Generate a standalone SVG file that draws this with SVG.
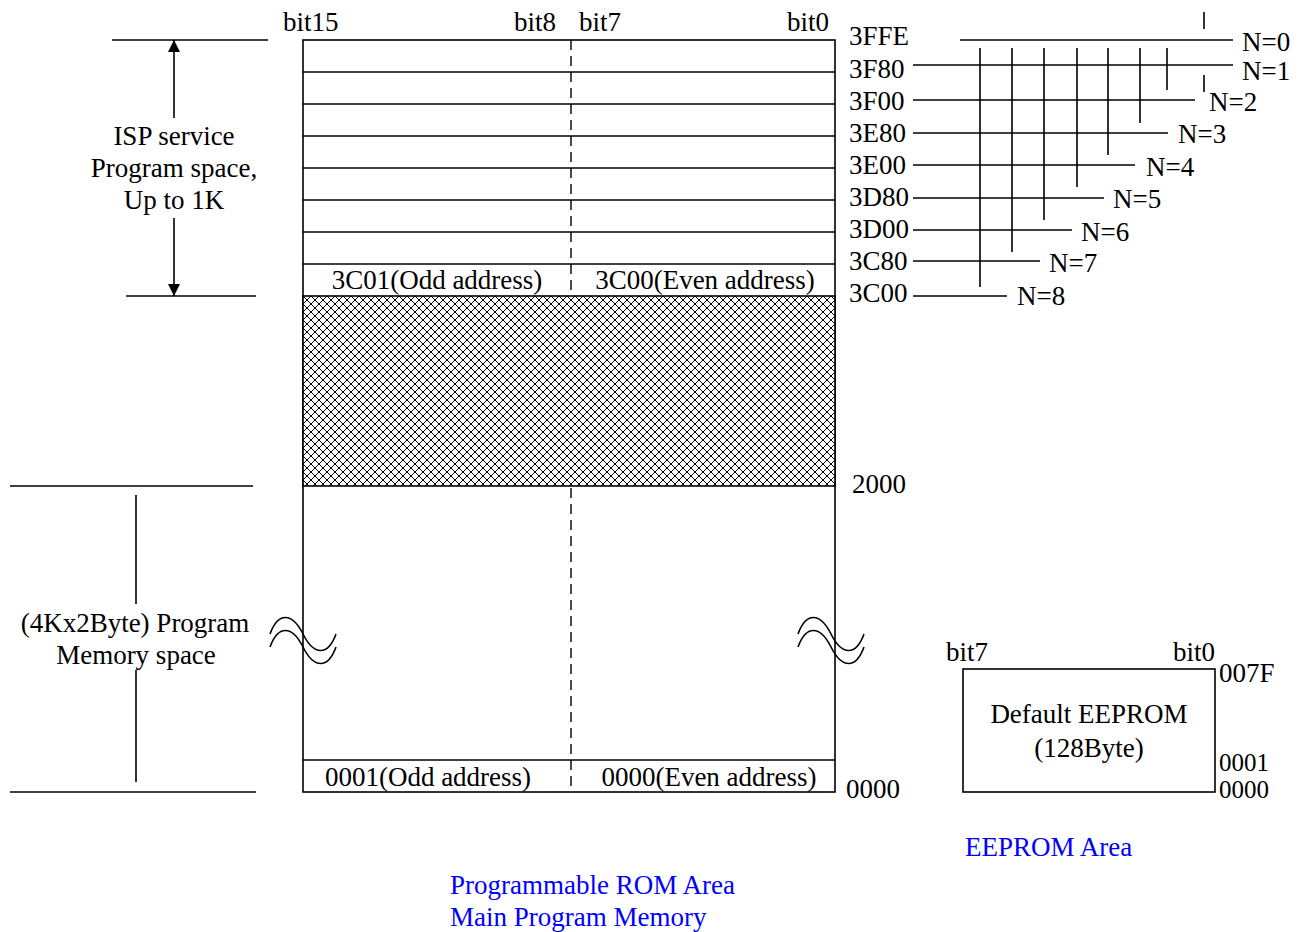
<svg xmlns="http://www.w3.org/2000/svg" width="1298" height="932" viewBox="0 0 1298 932">
<style>
text{font-family:"Liberation Serif","Times New Roman",serif;font-size:27px;fill:#000}
.blue{fill:#0000ff}
.ln{stroke:#000;stroke-width:1.6;fill:none}
.mid{text-anchor:middle}
.end{text-anchor:end}
.sm{font-size:25px}
</style>
<defs>
<pattern id="hatch" width="8" height="8" patternUnits="userSpaceOnUse" x="303" y="296">
<rect width="8" height="8" fill="#fff"/>
<path d="M0,0L8,8M8,0L0,8" stroke="#000" stroke-width="1"/>
</pattern>
<marker id="ah" viewBox="0 0 12 12" refX="12" refY="6" markerWidth="12" markerHeight="12" markerUnits="userSpaceOnUse" orient="auto">
<path d="M0,0L12,6L0,12z" fill="#000"/>
</marker>
</defs>
<rect width="1298" height="932" fill="#fff"/>

<g id="rom-memory">
<rect x="303" y="40" width="532" height="752" class="ln"/>
<line x1="571" y1="40" x2="571" y2="792" stroke="#000" stroke-width="1.4" stroke-dasharray="10,6"/>
<g class="ln">
<line x1="303" y1="72" x2="835" y2="72"/>
<line x1="303" y1="104" x2="835" y2="104"/>
<line x1="303" y1="136" x2="835" y2="136"/>
<line x1="303" y1="168" x2="835" y2="168"/>
<line x1="303" y1="200" x2="835" y2="200"/>
<line x1="303" y1="232" x2="835" y2="232"/>
<line x1="303" y1="264" x2="835" y2="264"/>
<line x1="303" y1="760" x2="835" y2="760"/>
</g>
<rect x="303" y="296" width="532" height="190" fill="url(#hatch)" stroke="#000" stroke-width="1.6"/>
<text x="283" y="31">bit15</text>
<text x="556" y="31" class="end">bit8</text>
<text x="579" y="31">bit7</text>
<text x="829" y="31" class="end">bit0</text>
<text x="437" y="289" class="mid">3C01(Odd address)</text>
<text x="705" y="289" class="mid">3C00(Even address)</text>
<text x="428" y="786" class="mid">0001(Odd address)</text>
<text x="709" y="786" class="mid">0000(Even address)</text>
<text x="849" y="45">3FFE</text>
<text x="849" y="78">3F80</text>
<text x="849" y="110">3F00</text>
<text x="849" y="142">3E80</text>
<text x="849" y="174">3E00</text>
<text x="849" y="206">3D80</text>
<text x="849" y="238">3D00</text>
<text x="849" y="270">3C80</text>
<text x="849" y="302">3C00</text>
<text x="852" y="493">2000</text>
<text x="846" y="798">0000</text>
</g>

<g id="break-marks" class="ln" stroke-width="1.4">
<path d="M270,634 C278,612 292,612 303,634 C314,656 328,656 336,634"/>
<path d="M270,647 C278,625 292,625 303,647 C314,669 328,669 336,647"/>
<path d="M798,634 C806,612 820,612 831,634 C842,656 856,656 864,634"/>
<path d="M798,647 C806,625 820,625 831,647 C842,669 856,669 864,647"/>
</g>

<g id="isp-label">
<line x1="112" y1="40" x2="268" y2="40" class="ln"/>
<line x1="126" y1="296" x2="256" y2="296" class="ln"/>
<line x1="174" y1="118" x2="174" y2="40" class="ln" marker-end="url(#ah)"/>
<line x1="174" y1="218" x2="174" y2="296" class="ln" marker-end="url(#ah)"/>
<text x="174" y="145" class="mid">ISP service</text>
<text x="174" y="177" class="mid">Program space,</text>
<text x="174" y="209" class="mid">Up to 1K</text>
</g>

<g id="program-label">
<line x1="10" y1="486" x2="253" y2="486" class="ln"/>
<line x1="10" y1="792" x2="256" y2="792" class="ln"/>
<line x1="136" y1="495" x2="136" y2="604" class="ln"/>
<line x1="136" y1="670" x2="136" y2="782" class="ln"/>
<text x="135" y="632" class="mid">(4Kx2Byte) Program</text>
<text x="136" y="664" class="mid">Memory space</text>
</g>

<g id="connectors">
<g class="ln">
<line x1="960" y1="40" x2="1233" y2="40"/>
<line x1="913" y1="65" x2="1233" y2="65"/>
<line x1="913" y1="100" x2="1195" y2="100"/>
<line x1="913" y1="133" x2="1168" y2="133"/>
<line x1="913" y1="165" x2="1135" y2="165"/>
<line x1="913" y1="198" x2="1104" y2="198"/>
<line x1="913" y1="230" x2="1072" y2="230"/>
<line x1="913" y1="261" x2="1040" y2="261"/>
<line x1="913" y1="296" x2="1007" y2="296"/>
<line x1="980" y1="48" x2="980" y2="287"/>
<line x1="1012" y1="48" x2="1012" y2="252"/>
<line x1="1044" y1="48" x2="1044" y2="220"/>
<line x1="1077" y1="48" x2="1077" y2="187"/>
<line x1="1108" y1="48" x2="1108" y2="155"/>
<line x1="1140" y1="48" x2="1140" y2="123"/>
<line x1="1167" y1="48" x2="1167" y2="90"/>
<line x1="1204" y1="12" x2="1204" y2="29"/>
<line x1="1204" y1="75" x2="1204" y2="92"/>
</g>
</g>

<g id="n-labels">
<text x="1242" y="51">N=0</text>
<text x="1242" y="80">N=1</text>
<text x="1209" y="111">N=2</text>
<text x="1178" y="143">N=3</text>
<text x="1146" y="176">N=4</text>
<text x="1113" y="208">N=5</text>
<text x="1081" y="241">N=6</text>
<text x="1049" y="272">N=7</text>
<text x="1017" y="305">N=8</text>
</g>

<g id="eeprom">
<rect x="963" y="669" width="252" height="123" class="ln"/>
<text x="946" y="661">bit7</text>
<text x="1215" y="661" class="end">bit0</text>
<text x="1089" y="723" class="mid">Default EEPROM</text>
<text x="1089" y="757" class="mid">(128Byte)</text>
<text x="1219" y="682">007F</text>
<text x="1219" y="771" class="sm">0001</text>
<text x="1219" y="798" class="sm">0000</text>
</g>

<g id="captions">
<text x="965" y="856" class="blue">EEPROM Area</text>
<text x="450" y="894" class="blue">Programmable ROM Area</text>
<text x="450" y="926" class="blue">Main Program Memory</text>
</g>
</svg>
